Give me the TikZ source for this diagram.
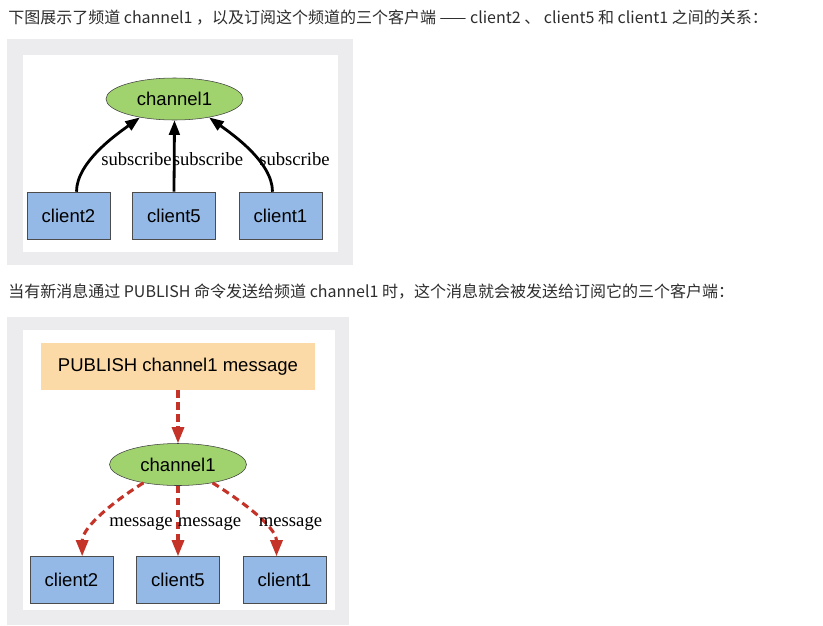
\documentclass[tikz,border=0pt]{standalone}
\usepackage{fontspec}
\setmainfont{Liberation Serif}
\setsansfont{Liberation Sans}
\newfontfamily\cjkfont{Noto Sans CJK SC}
\usetikzlibrary{shapes.geometric, arrows.meta}
\definecolor{framegrey}{RGB}{236,236,238}
\definecolor{changreen}{RGB}{160,210,110}
\definecolor{clientblue}{RGB}{148,185,230}
\definecolor{pubpeach}{RGB}{252,218,168}
\definecolor{msgred}{RGB}{196,50,40}
\definecolor{textgrey}{RGB}{45,45,45}

\begin{document}
\begin{tikzpicture}[
        x=0.75pt, y=0.75pt,
        chan/.style={ellipse, draw=black!75, fill=changreen, minimum width=102.75pt, minimum height=31.5pt, inner sep=0pt, font=\sffamily\fontsize{13.9}{16}\selectfont},
        client/.style={rectangle, draw=black!70, fill=clientblue, minimum width=62.25pt, minimum height=35.25pt, inner sep=0pt, font=\sffamily\fontsize{13.9}{16}\selectfont},
        pub/.style={rectangle, fill=pubpeach, minimum width=205.5pt, minimum height=35.25pt, inner sep=0pt, font=\sffamily\fontsize{13.9}{16}\selectfont},
        lbl/.style={font=\rmfamily\fontsize{14}{16}\selectfont, inner sep=0pt, anchor=base},
        para/.style={font=\cjkfont\fontsize{12}{14}\selectfont, text=textgrey, inner sep=0pt, anchor=west},
        subarrow/.style={-{Triangle[length=11pt,width=8pt]}, line width=2.1pt},
        msgarrow/.style={-{Triangle[length=12pt,width=9pt]}, line width=2.3pt, msgred, dash pattern=on 5.5pt off 3.5pt}
    ]
        \useasboundingbox (0,0) rectangle (823,-625);
        \fill[white] (0,0) rectangle (823,-625);

        % First paragraph
        \node[para] (intro) at (8,-18) {下图展示了频道 channel1 ，以及订阅这个频道的三个客户端 —— client2 、 client5 和 client1 之间的关系：};

        % Panel 1: subscribe
        \fill[framegrey] (7,-39) rectangle (353,-265);
        \fill[white] (23,-55) rectangle (338,-252);
        \node[chan] (ch) at (174.5,-99) {channel1};
        \node[client] (c2) at (68.5,-215.5) {client2};
        \node[client] (c5) at (174,-215.5) {client5};
        \node[client] (c1) at (280.5,-215.5) {client1};
        \draw[subarrow] ([xshift=6pt]c2.north) .. controls +(0,30) and +(-22,-16) .. (ch.208);
        \draw[subarrow] (c5.north) -- (ch.south);
        \draw[subarrow] ([xshift=-6pt]c1.north) .. controls +(0,30) and +(22,-16) .. (ch.332);
        \node[lbl] (s2) at (136.5,-165) {subscribe};
        \node[lbl] (s5) at (208,-165) {subscribe};
        \node[lbl] (s1) at (294.5,-165) {subscribe};

        % Second paragraph
        \node[para] (pubtext) at (8,-292) {当有新消息通过 PUBLISH 命令发送给频道 channel1 时，这个消息就会被发送给订阅它的三个客户端：};

        % Panel 2: publish
        \fill[framegrey] (7,-317) rectangle (349,-625);
        \fill[white] (23,-330) rectangle (335,-610);
        \node[pub] (pub) at (178,-366.5) {PUBLISH channel1 message};
        \node[chan] (ch2) at (178,-464.5) {channel1};
        \node[client] (m2) at (71.5,-580) {client2};
        \node[client] (m5) at (178,-580) {client5};
        \node[client] (m1) at (284.5,-580) {client1};
        \draw[msgarrow] (pub.south) -- (ch2.north);
        \draw[msgarrow] (ch2.208) .. controls +(-26,-16) and +(0,30) .. ([xshift=8pt]m2.north);
        \draw[msgarrow] (ch2.south) -- (m5.north);
        \draw[msgarrow] (ch2.332) .. controls +(26,-16) and +(0,30) .. ([xshift=-6pt]m1.north);
        \node[lbl] (g2) at (141,-526) {message};
        \node[lbl] (g5) at (209.5,-526) {message};
        \node[lbl] (g1) at (290.5,-526) {message};
    \end{tikzpicture}
\end{document}
